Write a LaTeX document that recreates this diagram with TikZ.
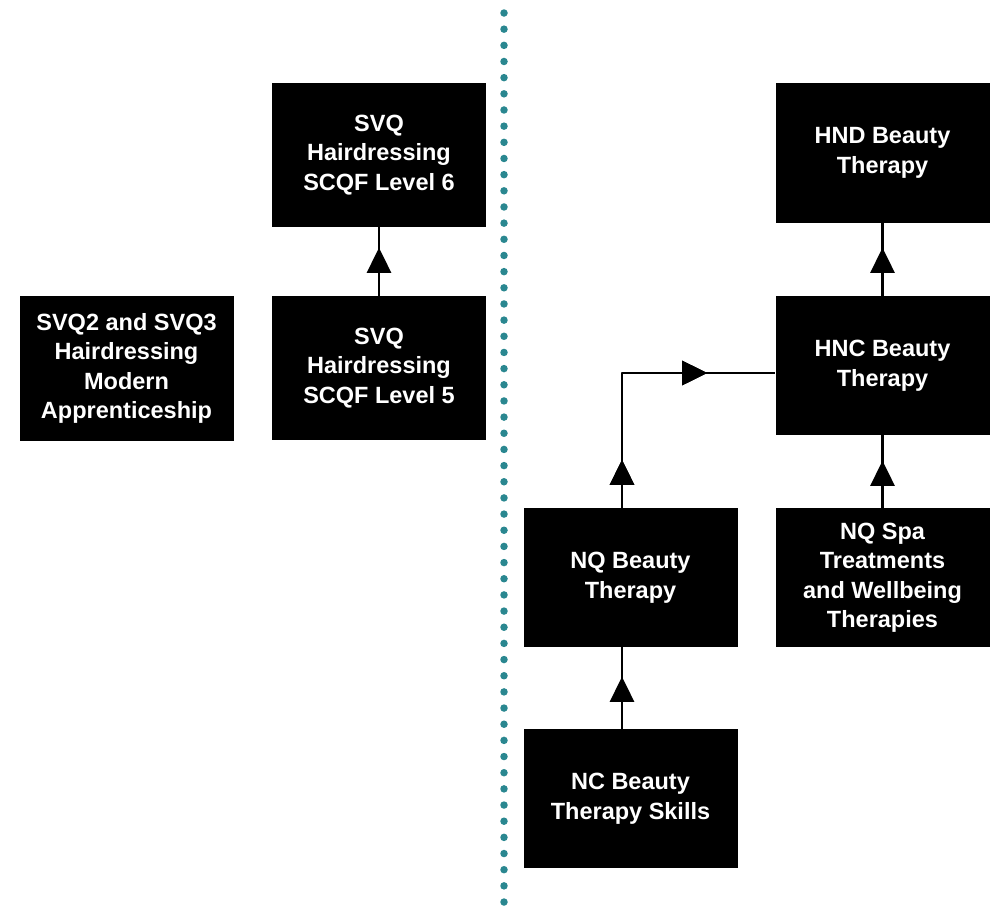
\documentclass[tikz,border=0pt]{standalone}
\usepackage{fontspec}
\setmainfont{Liberation Sans}
\usetikzlibrary{arrows.meta,decorations.markings}
\definecolor{divteal}{HTML}{2A8790}
\tikzset{
  box/.style={fill=black,text=white,font=\bfseries\fontsize{23.5}{29.5}\selectfont,align=center,
    inner sep=0pt,minimum width=214pt,minimum height=#1},
  box/.default=140pt,
  link/.style={line width=2.8pt,line cap=butt},
  midtip/.style={postaction=decorate,decoration={markings,
    mark=at position #1 with {\arrow{Triangle[width=24pt,length=25pt]}}}},
  divider/.style={color=divteal,line width=7.5pt,line cap=round,dash pattern=on 0pt off 16.164pt}
}

\begin{document}
\begin{tikzpicture}[line cap=round,line join=round,x=1pt,y=-1pt]
\useasboundingbox (0,0) rectangle (997,906);
\coordinate (divtop) at (504,13);
\coordinate (divbot) at (504,902.5);
\draw[divider] (divtop) -- (divbot);

\node[box=145pt] (svqma) at (126.5,368.5) {SVQ2 and SVQ3\\Hairdressing\\Modern\\Apprenticeship};
\node[box=144pt] (svqsix) at (379,155) {SVQ\\Hairdressing\\SCQF Level 6};
\node[box=144pt] (svqfive) at (379,368) {SVQ\\Hairdressing\\SCQF Level 5};
\node[box] (hnd) at (882.5,153) {HND Beauty\\Therapy};
\node[box=139pt] (hnc) at (882.5,365.5) {HNC Beauty\\Therapy};
\node[box=139pt] (nqbt) at (630.5,577.5) {NQ Beauty\\Therapy};
\node[box=139pt] (nqspa) at (882.5,577.5) {NQ Spa\\Treatments\\and Wellbeing\\Therapies};
\node[box=139pt] (ncbt) at (630.5,798.5) {NC Beauty\\Therapy Skills};

\draw[link,midtip=48pt] (svqfive.north) -- (svqsix.south);
\draw[link,midtip=48pt] (hnc.north) -- (hnd.south);
\draw[link,midtip=47pt] (nqspa.north) -- (hnc.south);
\draw[link,midtip=52pt] ([xshift=-8.5pt]ncbt.north) -- ([xshift=-8.5pt]nqbt.south);
\draw[link,midtip=48pt,midtip=220pt] ([xshift=-8.5pt]nqbt.north) |- ([yshift=-7.5pt]hnc.west);
\end{tikzpicture}
\end{document}
